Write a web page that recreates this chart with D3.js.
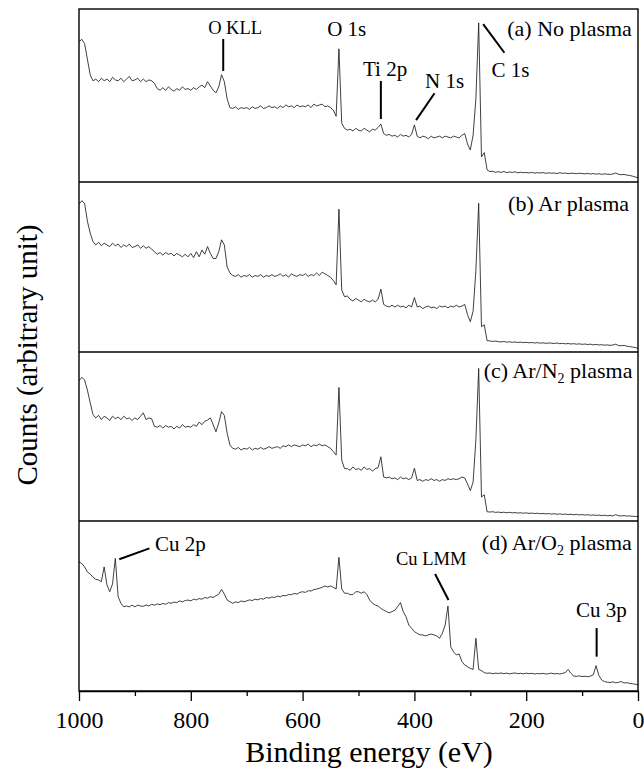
<!DOCTYPE html>
<html>
<head>
<meta charset="utf-8">
<script src="https://cdn.jsdelivr.net/npm/d3@7"></script>
<style>
  html, body { margin: 0; padding: 0; background: #fff; }
  svg text { font-family: "Liberation Serif", "Times New Roman", serif; fill: #000; }
</style>
</head>
<body>
<svg id="chart" width="644" height="773"></svg>
<script>
// ---- Data (binding energy grid 1000 -> 0 eV, 5 eV step) ----
const energyGrid = d3.range(1000, -1, -5);

const countsNoPlasma = [
  81, 82.5, 80, 71, 62, 58.5, 59.5, 58, 60, 58.5,
  59.5, 58, 60.5, 59, 58.5, 60, 58, 59.5, 61, 58.5,
  59, 60, 58, 59.5, 58, 59, 58.5, 57, 54, 53,
  54.5, 53, 55, 53.5, 52.5, 54, 53, 55, 53.5, 54,
  53, 54.5, 53.5, 55, 56, 54.5, 58, 55.5, 53, 51.5,
  55, 62, 58, 48, 43, 42.5, 43.5, 42, 43, 42.5,
  43, 42, 43.5, 42.5, 43, 44, 42.5, 43, 44, 43,
  43.5, 42.5, 44, 43, 44.5, 43.5, 44, 43, 44.5, 43.5,
  44, 43.5, 44.5, 43, 45, 44, 44.5, 45, 43.5, 44,
  43, 41.5, 38, 77, 34, 31, 30, 30.5, 29.5, 31,
  30, 29.5, 31, 30, 29, 30.5, 30, 31.5, 33.5, 28,
  27, 27.5, 26.5, 27, 26, 27.5, 26.5, 27, 26, 27.5,
  33, 26.5, 25.5, 26.5, 26, 25, 26.5, 25.5, 26, 26.5,
  25.5, 26.5, 26, 25.5, 26.5, 26, 25.5, 27, 28, 22,
  18.5, 27, 48, 92, 14.5, 17, 7, 6, 6.2, 5.6,
  6, 5.5, 6.1, 5.4, 5.8, 5.5, 5.9, 5.3, 5.6, 5.4,
  5.5, 5.2, 5.6, 5.1, 5.4, 5.2, 5.5, 5, 5.3, 5.1,
  5.2, 4.9, 5.3, 5, 5.2, 4.8, 5.1, 5, 4.8, 5.1,
  4.9, 4.7, 5, 4.6, 4.9, 4.5, 4.8, 4.4, 4.7, 4.5,
  4.4, 4.6, 5.2, 4.5, 4.2, 4.4, 4, 3.8, 3.4, 2.9, 2.4
];

const countsAr = [
  87, 89, 87.5, 77, 70, 65, 63, 64.5, 62.5, 64,
  63, 62, 64, 62.5, 63.5, 61.5, 63, 62, 63.5, 61.5,
  62, 63, 61, 62.5, 61, 62, 60.5, 59, 57.5, 58.5,
  57, 58.5, 57.5, 58, 56.5, 58, 57, 56, 57.5, 56,
  58, 55.5, 59, 56, 60, 57.5, 62, 58, 55, 55,
  59, 66, 63, 50, 46.5, 45, 44.5, 45.5, 44, 45,
  44.5, 45.5, 44, 45, 44.5, 45.5, 44, 45, 44.5, 45.5,
  44.5, 45, 46, 44.5, 45.5, 44, 46, 45, 44.5, 45.5,
  45, 46, 44.5, 45.5, 45, 46.5, 45, 47, 46, 45,
  44, 42, 39.5, 84, 36.5, 32.5, 33, 31, 30, 31.5,
  30.5, 29.5, 31, 30, 29.5, 30.5, 29.5, 31, 37, 28,
  27, 26.5, 27.5, 26.5, 27.5, 26.5, 27, 26, 27.5, 26.5,
  32, 26.5, 27, 25.5, 26.5, 27, 26, 26.5, 25.5, 27,
  26.5, 27, 26, 27, 26.5, 27.5, 26.5, 27, 28, 22,
  17.8, 24, 48, 87.5, 14.9, 16, 6.7, 6.5, 6.2, 6.4,
  6.1, 5.9, 6.2, 5.8, 6, 5.7, 5.9, 5.6, 5.8, 5.5,
  5.7, 5.4, 5.6, 5.3, 5.5, 5.2, 5.4, 5.1, 5.3, 5.2,
  5, 5.3, 4.9, 5.1, 4.8, 5, 4.7, 4.9, 4.6, 4.8,
  4.5, 4.7, 4.4, 4.6, 4.2, 4.5, 4.1, 4.3, 4, 4.2,
  3.9, 4.1, 4.6, 3.8, 3.7, 3.9, 3.4, 3.2, 2.9, 2.6, 2.2
];

const countsArN2 = [
  83, 85, 83.5, 77.5, 70, 63, 61, 62.5, 60, 62,
  61, 59.5, 62, 60.5, 61.5, 60, 62, 60.5, 61, 59.5,
  61, 60, 62, 64, 60, 61, 60.5, 56, 55.5, 56.5,
  55, 56.5, 55.5, 56, 54.5, 56, 55, 57, 55.5, 56,
  55.5, 57, 56, 58.5, 57, 59, 59.7, 61, 57, 52.8,
  58, 64.7, 62.5, 52, 45, 43, 42.5, 43.5, 42, 43,
  42.5, 43.5, 42, 43, 42.5, 43.5, 42.5, 43, 44, 43,
  43.5, 44, 43, 44.5, 44, 45, 44, 45, 44.5, 44,
  45, 44.5, 45.5, 44, 45, 44.5, 45.5, 44.5, 45, 44,
  43, 41, 39, 79, 36, 31, 31, 30, 32, 30.5,
  31, 30, 32, 30.5, 31, 29.5, 31, 31.5, 38, 26,
  25.5, 26, 25, 25.5, 24.5, 26, 25, 25.5, 24.5, 25.5,
  31.2, 24, 24.5, 23.5, 24.5, 24, 25, 24, 24.5, 23.5,
  24.5, 24, 25, 24.5, 25, 24.5, 25, 26, 25.5, 22,
  18, 23, 48, 90.3, 14.2, 15.5, 5.5, 5.3, 5.5, 5.1,
  5.3, 5, 5.2, 4.9, 5.1, 4.8, 5, 4.7, 4.9, 4.6,
  4.8, 4.5, 4.7, 4.4, 4.6, 4.3, 4.5, 4.2, 4.4, 4.1,
  4.3, 4, 4.2, 3.9, 4.1, 3.8, 4, 3.7, 3.9, 3.6,
  3.8, 3.5, 3.7, 3.4, 3.6, 3.3, 3.5, 3.2, 3.4, 3.1,
  3.3, 3, 3.8, 3.1, 3, 3.2, 2.9, 3, 2.8, 2.7, 2.6
];

const countsArO2 = [
  76, 75, 73, 70, 68.8, 66.9, 65.7, 65.3, 64.3, 73,
  62.4, 58.4, 63, 78, 55.5, 51.6, 49.6, 50, 49.5, 50.5,
  49.5, 50.5, 50, 49.8, 50.6, 50, 51, 50.5, 51.2, 50.8,
  51.5, 51, 52, 51.6, 52.3, 52, 53, 52.4, 53.2, 53.5,
  53, 54, 53.6, 54.4, 54, 55, 54.6, 55.5, 55, 56,
  57, 59.8, 57, 53.5, 52.5, 51.6, 52.4, 52, 53, 52.5,
  53, 53.6, 53.2, 54, 53.6, 54.4, 54, 55, 54.6, 55.3,
  55, 55.8, 55.4, 56.2, 56, 56.8, 56.6, 57.4, 57, 58,
  58.4, 58, 59, 58.8, 59.6, 60, 60.4, 61, 61.8, 61.2,
  61.8, 61, 60, 78.6, 60, 57.5, 57.5, 56.7, 56.7, 58.4,
  58.4, 57.5, 58.4, 56.7, 53.5, 51.6, 50.6, 50, 48.6, 47.6,
  46.7, 46, 46.7, 47.5, 49.6, 52, 46.7, 43.7, 38.8, 36.9,
  34.9, 33.9, 33, 33, 32.4, 33, 33.5, 33, 32.4, 31,
  33.9, 38.8, 50, 26, 23, 21.2, 21.8, 17.3, 15.3, 14.3,
  13.3, 12.7, 31, 12.7, 12, 10.8, 10.4, 10.6, 10.2, 10.5,
  10.3, 10.6, 10.2, 10.5, 10.1, 10.4, 10.6, 10.2, 10.4, 10.1,
  10.5, 10.2, 10.4, 10, 10.3, 10.1, 10.4, 10, 10.2, 10.5,
  10.1, 10.3, 10, 10.4, 10.8, 12.7, 10.4, 8.8, 8.6, 8.9,
  8.5, 8.7, 8.4, 8.8, 9.5, 14.9, 9.2, 6.5, 5.5, 5.2,
  5, 5.4, 4.8, 5.1, 5.6, 4.7, 4.9, 4.5, 4.3, 4, 3.5
];

const panelNames = ["(a) No plasma", "(b) Ar plasma", "(c) Ar/N|2| plasma", "(d) Ar/O|2| plasma"];
const majorTicks = [1000, 800, 600, 400, 200, 0];
const minorTicks = [900, 700, 500, 300, 100];
const xTitle = "Binding energy (eV)";
const yTitle = "Counts (arbitrary unit)";

// Peak annotations: panel index, label, text anchor energy/count, pointer segment (energy,count)->(energy,count)
const annotations = [
  {panel: 0, label: "O KLL", tx: 769, ty: 85.5, size: 18.5, line: [742, 82.7, 742, 64.2]},
  {panel: 0, label: "O 1s",  tx: 556, ty: 84.4, size: 21},
  {panel: 0, label: "Ti 2p", tx: 492, ty: 61.3, size: 21, line: [460, 58.4, 460, 36.4]},
  {panel: 0, label: "N 1s",  tx: 381, ty: 54.3, size: 21, line: [364, 51.3, 397, 35.8]},
  {panel: 0, label: "C 1s",  tx: 262, ty: 60.7, size: 21, line: [277, 91.3, 239, 74.7]},
  {panel: 3, label: "Cu 2p", tx: 864, ty: 82.5, size: 21, line: [928, 77.5, 874, 83.9]},
  {panel: 3, label: "Cu LMM", tx: 433, ty: 74.1, size: 18.5, line: [363, 68.8, 339, 53.5]},
  {panel: 3, label: "Cu 3p", tx: 111, ty: 43.7, size: 21, line: [74, 37, 74, 20.2]}
];

// ---- Layout ----
const FONT = '"Liberation Serif", "Times New Roman", serif';
const seriesList = [countsNoPlasma, countsAr, countsArN2, countsArO2];
const plotLeft = 79, plotRight = 638;
const panelEdges = [9, 182, 352, 521, 691];

const svg = d3.select("#chart");
const x = d3.scaleLinear().domain([1000, 0]).range([plotLeft, plotRight]);

const yScales = seriesList.map((s, i) =>
  d3.scaleLinear().domain([0, 100]).range([panelEdges[i + 1], panelEdges[i]]));

// spectra
svg.append("defs").append("clipPath").attr("id", "plotclip")
  .append("rect").attr("x", plotLeft).attr("y", panelEdges[0])
  .attr("width", plotRight - plotLeft).attr("height", panelEdges[4] - panelEdges[0]);

seriesList.forEach((series, i) => {
  const y = yScales[i];
  const line = d3.line()
    .x((d, j) => x(energyGrid[j]))
    .y(d => y(d));
  svg.append("path")
    .datum(series)
    .attr("clip-path", "url(#plotclip)")
    .attr("fill", "none")
    .attr("stroke", "#1e1e1e")
    .attr("stroke-width", 0.85)
    .attr("stroke-linejoin", "round")
    .attr("d", line);
});

// frame and panel separators
svg.append("rect")
  .attr("x", plotLeft).attr("y", panelEdges[0])
  .attr("width", plotRight - plotLeft).attr("height", panelEdges[4] - panelEdges[0])
  .attr("fill", "none").attr("stroke", "#000").attr("stroke-width", 1.4);
panelEdges.slice(1, 4).forEach(yy => {
  svg.append("line")
    .attr("x1", plotLeft).attr("x2", plotRight)
    .attr("y1", yy).attr("y2", yy)
    .attr("stroke", "#000").attr("stroke-width", 1.5);
});

// x axis
const axisY = panelEdges[4];
const majorAxis = svg.append("g").attr("transform", `translate(0,${axisY})`)
  .call(d3.axisBottom(x).tickValues(majorTicks).tickSize(10).tickSizeOuter(0).tickFormat(d3.format("d")));
majorAxis.select(".domain").attr("stroke", "#000").attr("stroke-width", 1.4);
majorAxis.selectAll(".tick line").attr("stroke", "#000").attr("stroke-width", 1.3);
majorAxis.selectAll(".tick text")
  .attr("y", 37).attr("dy", 0)
  .style("font-size", "24px")
  .style("font-family", FONT);

const minorAxis = svg.append("g").attr("transform", `translate(0,${axisY})`)
  .call(d3.axisBottom(x).tickValues(minorTicks).tickSize(5).tickSizeOuter(0).tickFormat(""));
minorAxis.select(".domain").remove();
minorAxis.selectAll(".tick line").attr("stroke", "#000").attr("stroke-width", 1.3);

// axis titles
svg.append("text")
  .attr("x", 369).attr("y", 762)
  .attr("text-anchor", "middle")
  .style("font-family", FONT)
  .style("font-size", "30px")
  .text(xTitle);

svg.append("text")
  .attr("transform", "translate(37,355) rotate(-90)")
  .attr("text-anchor", "middle")
  .style("font-family", FONT)
  .style("font-size", "29px")
  .text(yTitle);

// panel names (with subscripts marked by |..|)
const nameEnergy = [11, 16, 10, 11];
const nameCount = [84.4, 82.9, 84.4, 82.9];
panelNames.forEach((name, i) => {
  const t = svg.append("text")
    .attr("x", x(nameEnergy[i]))
    .attr("y", yScales[i](nameCount[i]))
    .attr("text-anchor", "end")
    .style("font-family", FONT)
    .style("font-size", "22px");
  const parts = name.split("|");
  parts.forEach((p, k) => {
    if (k % 2 === 1) {
      t.append("tspan").attr("dy", 5).style("font-size", "14px").text(p);
    } else {
      t.append("tspan").attr("dy", k === 0 ? 0 : -5).text(p);
    }
  });
});

// annotations
annotations.forEach(a => {
  const y = yScales[a.panel];
  svg.append("text")
    .attr("x", x(a.tx)).attr("y", y(a.ty))
    .style("font-family", FONT)
    .style("font-size", a.size + "px")
    .text(a.label);
  if (a.line) {
    svg.append("line")
      .attr("x1", x(a.line[0])).attr("y1", y(a.line[1]))
      .attr("x2", x(a.line[2])).attr("y2", y(a.line[3]))
      .attr("stroke", "#000").attr("stroke-width", 2);
  }
});
</script>
</body>
</html>
